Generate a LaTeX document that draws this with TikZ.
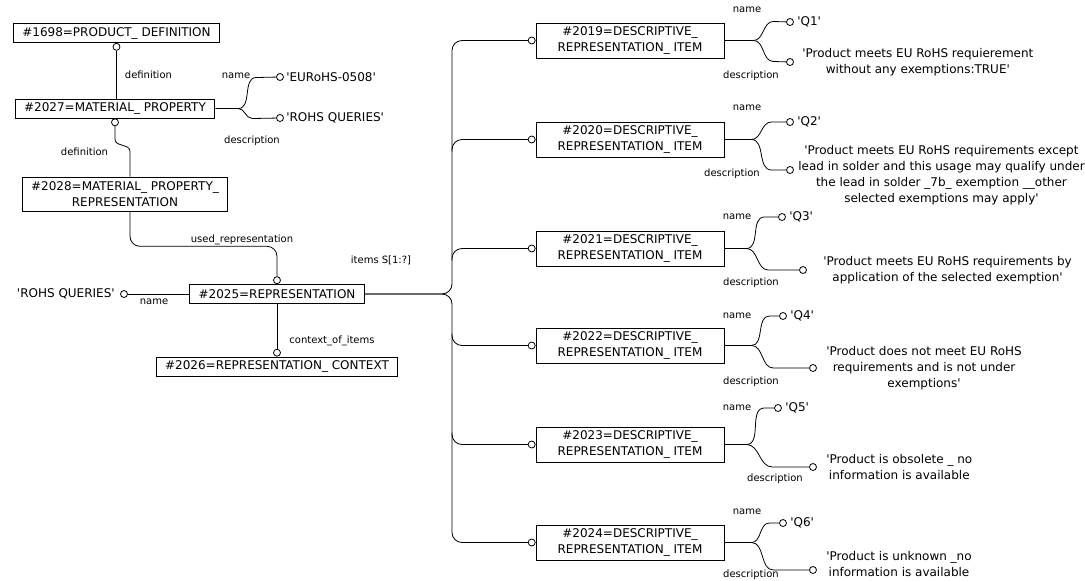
\documentclass[tikz,border=0pt]{standalone}
\usepackage{fontspec}
\setmainfont{DejaVu Sans}[Ligatures=TeXOff]
\usepackage{tikz}
\usetikzlibrary{positioning}

\begin{document}
\begin{tikzpicture}[
  x=1pt, y=-1pt,
  line width=0.8pt,
  font=\fontsize{12}{16}\selectfont,
  entity/.style={draw, fill=white, align=center, inner xsep=9pt, inner ysep=0pt,
    minimum height=19pt},
  item/.style={entity, minimum width=188pt, minimum height=35pt},
  ring/.style={draw, circle, fill=white, inner sep=0pt, minimum size=7pt},
  attr/.style={font=\fontsize{10}{12}\selectfont, inner sep=0pt},
  lit/.style={align=center, inner sep=0pt},
  link/.style={rounded corners=10pt}
]
\useasboundingbox (0,0) rectangle (1085,581);

% Left part
\node[entity] (pd) at (116.5,33) {\#1698=PRODUCT\_ DEFINITION};
\node[ring, anchor=north] (pdc) at (pd.south) {};

\node[entity] (mp) at (115,108.5) {\#2027=MATERIAL\_ PROPERTY};
\node[ring, anchor=north] (mpc) at (mp.south) {};

\node[entity, minimum height=34pt] (mpr) at (125,194)
  {\#2028=MATERIAL\_ PROPERTY\_\\REPRESENTATION};

\node[entity] (rep) at (277,294) {\#2025=REPRESENTATION};
\node[ring, anchor=south] (repc) at (rep.north) {};

\node[entity] (ctx) at (277,366.5) {\#2026=REPRESENTATION\_ CONTEXT};
\node[ring, anchor=south] (ctxc) at (ctx.north) {};

\draw (pdc) -- (pdc |- mp.north)
  node[attr, midway, right=8pt] (def1) {definition};
\draw (mpc) -- ++(0,17) to[out=-90,in=90] ++(15,12) -- ([xshift=5pt]mpr.north);
\node[attr] (def2) at (84.5,152) {definition};

\draw[link] ([xshift=5pt]mpr.south) |- ([yshift=30pt]repc.north) -- (repc);
\node[attr] (used) at (242,240) {used\_representation};

\draw (rep) -- (ctxc);
\node[attr] (ctxl) at (332,341) {context\_of\_items};

% name / description of the material property
\coordinate (mpf) at ([xshift=23pt]mp.east);
\node[ring] (mpn) at (280,77) {};
\node[ring] (mpd) at (280,118) {};
\node[lit, right=2pt of mpn] (mpnt) {'EURoHS-0508'};
\node[lit, right=2pt of mpd] (mpdt) {'ROHS QUERIES'};
\draw (mp.east) -- (mpf) to[out=0,in=180] ++(18,-31) -- (mpn);
\draw (mpf) to[out=0,in=180] ++(14,10) -- (mpd);
\node[attr] (mpnl) at (236,76) {name};
\node[attr] (mpdl) at (252,141) {description};

% name of the representation
\node[ring] (rqc) at (124,294) {};
\node[lit, left=5pt of rqc] (rq) {'ROHS QUERIES'};
\draw (rqc) -- (rep);
\node[attr] (rql) at (154,302) {name};

% Items
\node[item] (d19) at (630,40.5) {\#2019=DESCRIPTIVE\_\\REPRESENTATION\_ ITEM};
\node[item] (d20) at (630,139.5) {\#2020=DESCRIPTIVE\_\\REPRESENTATION\_ ITEM};
\node[item] (d21) at (630,248.5) {\#2021=DESCRIPTIVE\_\\REPRESENTATION\_ ITEM};
\node[item] (d22) at (630,345.5) {\#2022=DESCRIPTIVE\_\\REPRESENTATION\_ ITEM};
\node[item] (d23) at (630,444.5) {\#2023=DESCRIPTIVE\_\\REPRESENTATION\_ ITEM};
\node[item] (d24) at (630,542.5) {\#2024=DESCRIPTIVE\_\\REPRESENTATION\_ ITEM};

\node[ring, anchor=east] (i19) at (d19.west) {};
\node[ring, anchor=east] (i20) at (d20.west) {};
\node[ring, anchor=east] (i21) at (d21.west) {};
\node[ring, anchor=east] (i22) at (d22.west) {};
\node[ring, anchor=east] (i23) at (d23.west) {};
\node[ring, anchor=east] (i24) at (d24.west) {};

\coordinate (split) at (452,294);
\draw[link] (rep.east) -- (split) |- (i19);
\draw[link] (rep.east) -- (split) |- (i24);
\draw[link] (split |- i20) ++(0,12) |- (i20);
\draw[link] (split |- i21) ++(0,12) |- (i21);
\draw[link] (split |- i22) ++(0,-12) |- (i22);
\draw[link] (split |- i23) ++(0,-12) |- (i23);
\node[attr] (items) at (381,260) {items S[1:?]};

% #2019
\coordinate (f19) at ([xshift=29pt]d19.east);
\node[ring] (n19) at (790,22) {};
\node[ring] (s19) at (790,62) {};
\draw (d19.east) -- (f19) to[out=0,in=180] ++(20,-19) -- (n19);
\draw (f19) to[out=0,in=180] ++(20,21) -- (s19);
\node[lit, right=3pt of n19] (q19) {'Q1'};
\node[lit, right=8pt of s19] (t19)
  {'Product meets EU RoHS requierement\\without any exemptions:TRUE'};
\node[attr] (nl19) at (747,10) {name};
\node[attr] (sl19) at (751,76) {description};

% #2020
\coordinate (f20) at ([xshift=27pt]d20.east);
\node[ring] (n20) at (790,122) {};
\node[ring] (s20) at (790,170) {};
\draw (d20.east) -- (f20) to[out=0,in=180] ++(20,-17.5) -- (n20);
\draw (f20) to[out=0,in=180] ++(20,30.5) -- (s20);
\node[lit, right=3pt of n20] (q20) {'Q2'};
\node[lit, right=4pt of s20, yshift=-5pt] (t20)
  {'Product meets EU RoHS requirements except\\lead in solder and this usage may qualify under\\the lead in solder \_7b\_ exemption \_\_other\\selected exemptions may apply'};
\node[attr] (nl20) at (747,108) {name};
\node[attr] (sl20) at (732,174) {description};

% #2021
\coordinate (f21) at ([xshift=22pt]d21.east);
\node[ring] (n21) at (782,217) {};
\node[ring] (s21) at (803,270) {};
\draw (d21.east) -- (f21) to[out=0,in=180] ++(18,-31.5) -- (n21);
\draw (f21) to[out=0,in=180] ++(22,21.5) -- (s21);
\node[lit, right=3pt of n21] (q21) {'Q3'};
\node[lit, right=16pt of s21] (t21)
  {'Product meets EU RoHS requirements by\\application of the selected exemption'};
\node[attr] (nl21) at (737,217) {name};
\node[attr] (sl21) at (751,283) {description};

% #2022
\coordinate (f22) at ([xshift=27pt]d22.east);
\node[ring] (n22) at (783,316) {};
\node[ring] (s22) at (813,368) {};
\draw (d22.east) -- (f22) to[out=0,in=180] ++(18,-29.5) -- (n22);
\draw (f22) to[out=0,in=180] ++(22,22.5) -- (s22);
\node[lit, right=9pt of s22] (t22)
  {'Product does not meet EU RoHS\\requirements and is not under\\exemptions'};
\node[lit, right=3pt of n22] (q22) {'Q4'};
\node[attr] (nl22) at (737,316) {name};
\node[attr] (sl22) at (751,382) {description};

% #2023
\coordinate (f23) at ([xshift=22pt]d23.east);
\node[ring] (n23) at (778,408) {};
\node[ring] (s23) at (813,467) {};
\draw (d23.east) -- (f23) to[out=0,in=180] ++(18,-36.5) -- (n23);
\draw (f23) to[out=0,in=180] ++(26,22.5) -- (s23);
\node[lit, right=3pt of n23] (q23) {'Q5'};
\node[lit, right=9pt of s23] (t23) {'Product is obsolete \_ no\\information is available};
\node[attr] (nl23) at (737,408) {name};
\node[attr] (sl23) at (775,479) {description};

% #2024
\coordinate (f24) at ([xshift=27pt]d24.east);
\node[ring] (n24) at (783,523) {};
\node[ring] (s24) at (813,570) {};
\draw (d24.east) -- (f24) to[out=0,in=180] ++(18,-19.5) -- (n24);
\draw (f24) to[out=0,in=180] ++(22,27.5) -- (s24);
\node[lit, right=3pt of n24] (q24) {'Q6'};
\node[lit, right=9pt of s24, yshift=6pt] (t24) {'Product is unknown \_no\\information is available};
\node[attr] (nl24) at (747,512) {name};
\node[attr] (sl24) at (751,575) {description};

\end{tikzpicture}
\end{document}
